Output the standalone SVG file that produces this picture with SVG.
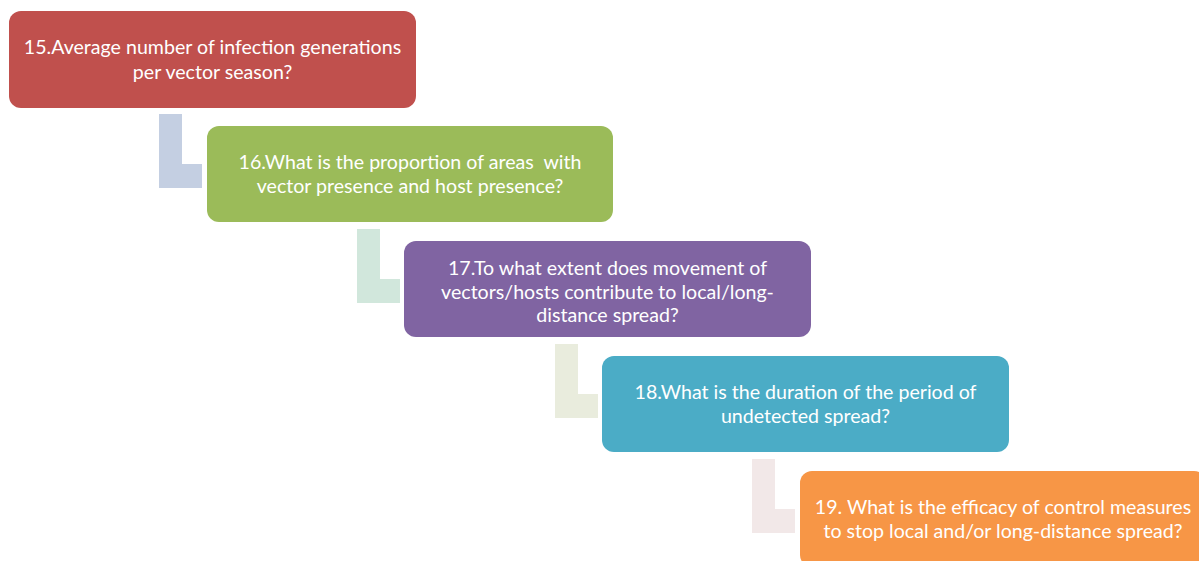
<svg xmlns="http://www.w3.org/2000/svg" width="1199" height="561" viewBox="0 0 1199 561">
<style>
.box{stroke:none}
.t{font-family:Lato,"Open Sans","Liberation Sans",sans-serif;font-size:19.6px;fill:#ffffff;text-anchor:middle;white-space:pre}
</style>
<rect width="1199" height="561" fill="#ffffff"/>
<g id="connectors">
<path d="M159 114H182V164H202V188H159Z" fill="#c4cfe2"/>
<path d="M357 229H380V279H400V303H357Z" fill="#d1e7dc"/>
<path d="M555 344H578V394H598V418H555Z" fill="#e9ecdd"/>
<path d="M752 459H775V509H795V533H752Z" fill="#f2e8e8"/>
</g>
<g id="n15">
<rect class="box" x="9" y="11" width="407" height="97" rx="12" fill="#c0504d"/>
<text class="t" x="212.5" y="54">15.Average number of infection generations</text>
<text class="t" x="212.5" y="79">per vector season?</text>
</g>
<g id="n16">
<rect class="box" x="207" y="126" width="406" height="96" rx="12" fill="#9bbb59"/>
<text class="t" x="410" y="169" xml:space="preserve">16.What is the proportion of areas  with</text>
<text class="t" x="410" y="193">vector presence and host presence?</text>
</g>
<g id="n17">
<rect class="box" x="404" y="241" width="407" height="96" rx="12" fill="#8064a2"/>
<text class="t" x="607.5" y="275">17.To what extent does movement of</text>
<text class="t" x="607.5" y="299">vectors/hosts contribute to local/long-</text>
<text class="t" x="607.5" y="322">distance spread?</text>
</g>
<g id="n18">
<rect class="box" x="602" y="356" width="407" height="96" rx="12" fill="#4bacc6"/>
<text class="t" x="805.5" y="399">18.What is the duration of the period of</text>
<text class="t" x="805.5" y="423">undetected spread?</text>
</g>
<g id="n19">
<rect class="box" x="800" y="471" width="406" height="96" rx="12" fill="#f79646"/>
<text class="t" x="1003" y="514">19. What is the efficacy of control measures</text>
<text class="t" x="1003" y="538">to stop local and/or long-distance spread?</text>
</g>
</svg>
